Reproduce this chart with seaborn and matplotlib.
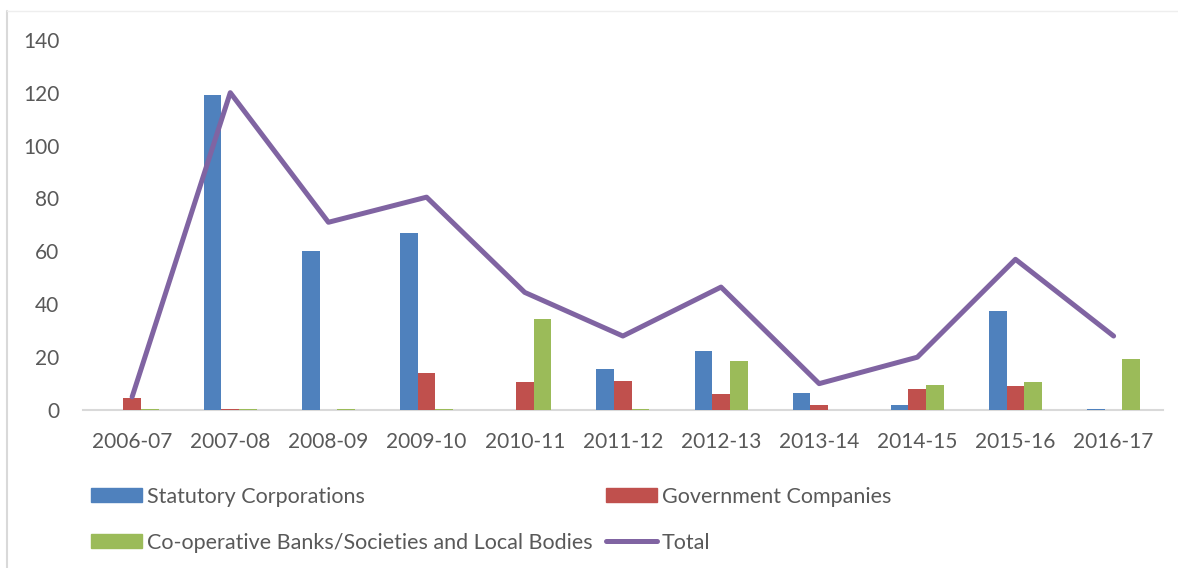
import matplotlib
matplotlib.use("Agg")
import matplotlib.pyplot as plt
from matplotlib.lines import Line2D
import pandas as pd
import seaborn as sns

years = ["2006-07", "2007-08", "2008-09", "2009-10", "2010-11", "2011-12",
         "2012-13", "2013-14", "2014-15", "2015-16", "2016-17"]
statutory = [0, 119, 60, 67, 0, 15.5, 22.5, 6.5, 2, 37.5, 0.5]
government = [4.5, 0.5, 0, 14, 10.5, 11, 6, 2, 8, 9, 0]
cooperative = [0.5, 0.5, 0.5, 0.5, 34.5, 0.5, 18.5, 0, 9.5, 10.5, 19.5]
total = [5, 120, 71, 80.5, 44.5, 28, 46.5, 10, 20, 57, 28]

series_names = ["Statutory Corporations", "Government Companies",
                "Co-operative Banks/Societies and Local Bodies"]
total_name = "Total"

bars = pd.DataFrame({
    "year": years * 3,
    "series": [s for s in series_names for _ in years],
    "value": statutory + government + cooperative,
})
line = pd.DataFrame({"year": years, "value": total})

colors = {series_names[0]: "#4F81BD", series_names[1]: "#C0504D",
          series_names[2]: "#9BBB59"}
total_color = "#8064A2"
text_color = "#595959"

sns.set_style("white")
plt.rcParams["font.family"] = ["Lato", "DejaVu Sans"]

fig = plt.figure(figsize=(11.78, 5.68), dpi=100)
ax = fig.add_axes([0.0705, 0.278, 0.9165, 0.652])

sns.barplot(data=bars, x="year", y="value", hue="series", palette=colors,
            width=0.54, saturation=1, ax=ax, legend=False, zorder=3,
            linewidth=0)
sns.pointplot(data=line, x="year", y="value", color=total_color,
              marker="", linewidth=3.6, errorbar=None, ax=ax)
for ln in ax.lines:
    ln.set_solid_capstyle("round")
    ln.set_solid_joinstyle("round")
    ln.set_zorder(4)

ax.set_ylim(0, 140)
ax.set_xlim(-0.5, len(years) - 0.5)
ax.set_yticks(range(0, 141, 20))
ax.set_xlabel("")
ax.set_ylabel("")
for side in ["top", "right", "left"]:
    ax.spines[side].set_visible(False)
ax.spines["bottom"].set_color("#d9d9d9")
ax.spines["bottom"].set_linewidth(1.5)
ax.spines["bottom"].set_zorder(1)
ax.tick_params(axis="y", length=0, pad=17, labelsize=15, labelcolor=text_color)
ax.tick_params(axis="x", length=0, pad=16, labelsize=15, labelcolor=text_color)

handles = [plt.Rectangle((0, 0), 1, 1, color=colors[series_names[0]]),
           plt.Rectangle((0, 0), 1, 1, color=colors[series_names[2]]),
           plt.Rectangle((0, 0), 1, 1, color=colors[series_names[1]]),
           Line2D([], [], color=total_color, linewidth=3.6,
                  solid_capstyle="round")]
labels = [series_names[0], series_names[2], series_names[1], total_name]
fig.legend(handles, labels, ncol=2, loc="upper left",
           bbox_to_anchor=(0.077, 0.143), frameon=False, fontsize=15.5,
           labelcolor=text_color, handlelength=2.37, handleheight=0.65,
           handletextpad=0.25, columnspacing=0.6, labelspacing=1.2,
           borderpad=0, borderaxespad=0)

# chart-area frame edges
fig.add_artist(Line2D([7 / 1178, 7 / 1178], [0, 1 - 11 / 568],
                      transform=fig.transFigure, color="#d9d9d9", lw=1.5))
fig.add_artist(Line2D([7 / 1178, 1], [1 - 11 / 568, 1 - 11 / 568],
                      transform=fig.transFigure, color="#eeeeee", lw=1))

fig.savefig("out.png", dpi=100)
